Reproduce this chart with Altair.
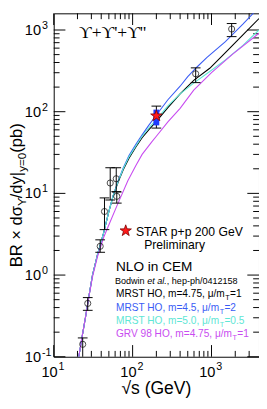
import altair as alt
import pandas as pd

# ---------------- data ----------------
sqrt_s_pts = [23.3, 27.0, 38.8, 44.0, 52.0, 62.0, 63.0, 630.0, 1800.0]
br_pts     = [0.142, 0.45, 2.25, 6.0, 13.4, 15.1, 9.2, 291.0, 1028.0]
br_lo      = [0.095, 0.37, 1.9, 3.6, 8.3, 10.5, 7.6, 227.0, 830.0]
br_hi      = [0.17, 0.53, 2.7, 8.8, 20.6, 20.6, 10.4, 344.0, 1200.0]

star_s = [200.0]
star_br = [89.0]
star_lo = [63.0]
star_hi = [117.0]
star_sys_lo = [68.0]
star_sys_hi = [106.0]

black_s = [20.8, 23, 25.5, 28, 31, 36, 43, 50, 57, 66, 76, 90, 110, 132, 160, 200, 280, 400, 600, 950, 1500, 2500, 4000]
black_v = [0.1, 0.18, 0.32, 0.56, 1.0, 1.8, 3.3, 6.0, 9.5, 14, 19.5, 27, 37, 48, 60, 76, 112, 165, 243, 340, 530, 870, 1380]
blue_s = [20.8, 23, 25.5, 28, 31, 36, 43, 50, 57, 66, 76, 90, 110, 132, 160, 200, 280, 400, 500, 650, 870, 1500, 2500, 4000]
blue_v = [0.1, 0.18, 0.32, 0.56, 1.0, 1.8, 3.3, 6.0, 9.6, 14.5, 20.5, 29, 40, 52, 68, 91, 140, 205, 268, 350, 460, 720, 1180, 1900]
cyan_s = [20.8, 23, 25.5, 28, 31, 36, 43, 50, 57, 66, 76, 90, 110, 132, 160, 200, 280, 400, 600, 950, 1500, 2500, 4000]
cyan_v = [0.1, 0.18, 0.32, 0.56, 1.0, 1.8, 3.3, 6.0, 9.5, 14.2, 20, 28, 38, 50, 63, 80, 118, 165, 225, 310, 430, 650, 1000]
mag_s = [20.8, 23, 25.5, 28, 31, 36, 43, 51, 65, 87, 110, 132, 176, 200, 280, 400, 595, 1000, 1840, 4000]
mag_v = [0.1, 0.18, 0.32, 0.55, 0.95, 1.7, 2.9, 4.3, 7.5, 14.3, 22, 30, 43, 50, 75, 110, 184, 300, 504, 914]

series_names = ["MRST HO, m=4.75, μ/mT=1", "MRST HO, m=4.5, μ/mT=2",
                "MRST HO, m=5.0, μ/mT=0.5", "GRV 98 HO, m=4.75, μ/mT=1"]
series_colors = ["#000000", "#3a5cf5", "#5ee6d5", "#c84cf0"]

x_major = [10, 100, 1000]
y_major = [0.1, 1, 10, 100, 1000]
x_minor = [m * 10 ** k for k in (1, 2, 3) for m in range(2, 10) if m * 10 ** k < 4000]
y_minor = [m * 10.0 ** k for k in (-1, 0, 1, 2, 3) for m in range(2, 10) if m * 10.0 ** k < 1600]

# ---------------- layout ----------------
W, H = 211, 353
FONT = "Liberation Sans, Arial, Helvetica, sans-serif"
xs = alt.Scale(type="log", domain=[10, 4000], nice=False)
ys = alt.Scale(type="log", domain=[0.1, 1600], nice=False)

AW = {'M': 833, 'R': 722, 'S': 667, 'T': 611, ' ': 278, 'H': 722, 'O': 778, ',': 278,
      'm': 833, '=': 584, '.': 278, 'μ': 576, '/': 278, 'G': 778, 'V': 667,
      'B': 667, '×': 584, 'd': 556, 'σ': 617, 'ϒ': 667, 'y': 500, '|': 260,
      '(': 333, ')': 333, 'p': 556, 'b': 556, 'o': 556, 'w': 722, 'i': 222, 'n': 556,
      'e': 556, 't': 278, 'a': 556, 'l': 222, 'h': 556, '-': 333}


def tw(s, size):
    return sum(AW.get(c, 556) for c in s) / 1000.0 * size


one = pd.DataFrame({"a": [0]})


def txt(text, x, y, size, color="black", align="left", angle=0, style="normal", family=FONT):
    return alt.Chart(one).mark_text(
        text=text, align=align, baseline="alphabetic", fontSize=size, color=color,
        angle=angle, fontStyle=style, font=family
    ).encode(x=alt.value(x), y=alt.value(y))


# curves
rows = []
for name, xs_, vs_ in zip(series_names, [black_s, blue_s, cyan_s, mag_s], [black_v, blue_v, cyan_v, mag_v]):
    for a, b in zip(xs_, vs_):
        rows.append({"s": a, "v": b, "series": name})
curves_df = pd.DataFrame(rows)
curves = alt.Chart(curves_df).mark_line(clip=True, strokeWidth=1.1).encode(
    x=alt.X("s:Q", scale=xs, axis=None),
    y=alt.Y("v:Q", scale=ys, axis=None),
    color=alt.Color("series:N", scale=alt.Scale(domain=series_names, range=series_colors), legend=None),
    order=alt.Order("s:Q"),
)

pts_df = pd.DataFrame({"s": sqrt_s_pts, "v": br_pts, "lo": br_lo, "hi": br_hi})
ebar = alt.Chart(pts_df).mark_rule(color="black", strokeWidth=1, clip=True).encode(
    x=alt.X("s:Q", scale=xs, axis=None), y=alt.Y("lo:Q", scale=ys, axis=None), y2="hi:Q")
cap_lo = alt.Chart(pts_df).mark_rule(color="black", strokeWidth=1, xOffset=-5, x2Offset=5, clip=True).encode(
    x=alt.X("s:Q", scale=xs, axis=None), x2="s:Q", y=alt.Y("lo:Q", scale=ys, axis=None))
cap_hi = alt.Chart(pts_df).mark_rule(color="black", strokeWidth=1, xOffset=-5, x2Offset=5, clip=True).encode(
    x=alt.X("s:Q", scale=xs, axis=None), x2="s:Q", y=alt.Y("hi:Q", scale=ys, axis=None))
circ = alt.Chart(pts_df).mark_point(shape="circle", filled=False, size=40, color="black", strokeWidth=1, clip=True).encode(
    x=alt.X("s:Q", scale=xs, axis=None), y=alt.Y("v:Q", scale=ys, axis=None))

star_df = pd.DataFrame({"s": star_s, "v": star_br, "lo": star_lo, "hi": star_hi,
                        "slo": star_sys_lo, "shi": star_sys_hi})
STAR = "M0,-1L0.235,-0.324L0.951,-0.309L0.38,0.124L0.588,0.809L0,0.4L-0.588,0.809L-0.38,0.124L-0.951,-0.309L-0.235,-0.324Z"
s_sys = alt.Chart(star_df).mark_rect(color="#1f3cff", xOffset=-3, x2Offset=3).encode(
    x=alt.X("s:Q", scale=xs, axis=None), x2="s:Q", y=alt.Y("slo:Q", scale=ys, axis=None), y2="shi:Q")
s_bar = alt.Chart(star_df).mark_rule(color="black").encode(
    x=alt.X("s:Q", scale=xs, axis=None), y=alt.Y("lo:Q", scale=ys, axis=None), y2="hi:Q")
s_caplo = alt.Chart(star_df).mark_rule(color="black", xOffset=-5, x2Offset=5).encode(
    x=alt.X("s:Q", scale=xs, axis=None), x2="s:Q", y=alt.Y("lo:Q", scale=ys, axis=None))
s_caphi = alt.Chart(star_df).mark_rule(color="black", xOffset=-5, x2Offset=5).encode(
    x=alt.X("s:Q", scale=xs, axis=None), x2="s:Q", y=alt.Y("hi:Q", scale=ys, axis=None))
s_pt = alt.Chart(star_df).mark_point(shape=STAR, filled=True, size=150, fill="#ff1a1a", stroke="#7a0000",
                                     strokeWidth=0.8, opacity=1).encode(
    x=alt.X("s:Q", scale=xs, axis=None), y=alt.Y("v:Q", scale=ys, axis=None))

# ticks (inward, all four sides)
def yticks(vals, length):
    d = pd.DataFrame({"v": vals})
    l = alt.Chart(d).mark_rule(color="black").encode(
        y=alt.Y("v:Q", scale=ys, axis=None), x=alt.value(0), x2=alt.value(length))
    r = alt.Chart(d).mark_rule(color="black").encode(
        y=alt.Y("v:Q", scale=ys, axis=None), x=alt.value(W), x2=alt.value(W - length))
    return [l, r]


def xticks(vals, length):
    d = pd.DataFrame({"v": vals})
    b = alt.Chart(d).mark_rule(color="black").encode(
        x=alt.X("v:Q", scale=xs, axis=None), y=alt.value(H), y2=alt.value(H - length))
    t = alt.Chart(d).mark_rule(color="black").encode(
        x=alt.X("v:Q", scale=xs, axis=None), y=alt.value(0), y2=alt.value(length))
    return [b, t]


ticks = yticks(y_major, 12) + yticks(y_minor, 6) + xticks(x_major, 12) + xticks(x_minor, 6)

# tick labels: 10 with superscript exponent
xl_df = pd.DataFrame({"v": x_major, "e": [str(len(str(v)) - 1) for v in x_major]})
xlab = alt.Chart(xl_df).mark_text(align="right", baseline="alphabetic", fontSize=15, font=FONT, dx=4,
                                  text="10").encode(
    x=alt.X("v:Q", scale=xs, axis=None), y=alt.value(H + 21))
xsup = alt.Chart(xl_df).mark_text(align="left", baseline="alphabetic", fontSize=11, font=FONT, dx=5).encode(
    x=alt.X("v:Q", scale=xs, axis=None), y=alt.value(H + 14), text="e:N")
y_exps = ["-1", "0", "1", "2", "3"]
yl_df = pd.DataFrame({"v": y_major, "e": y_exps})
ylab = alt.Chart(yl_df).mark_text(align="right", baseline="alphabetic", fontSize=15, font=FONT, dy=5,
                                  text="10").encode(
    y=alt.Y("v:Q", scale=ys, axis=None), x=alt.value(-13))
ysup = alt.Chart(yl_df).mark_text(align="left", baseline="alphabetic", fontSize=11, font=FONT, dy=-1).encode(
    y=alt.Y("v:Q", scale=ys, axis=None), x=alt.value(-12), text="e:N")

# axis titles
xtitle = txt("√s (GeV)", W / 2, H + 38, 18, align="center")
F, FS = 17, 12
yt = []
y0 = 261
xb, xsb = -33, -29
pieces = [("BR × dσ", F, xb), ("ϒ", FS, xsb), ("/dy|", F, xb), ("y=0", FS, xsb), ("  (pb)", F, xb)]
for t, sz, xx in pieces:
    yt.append(txt(t, xx, y0, sz, angle=270))
    y0 -= tw(t, sz)

# annotations
ann = [
    txt("ϒ+ϒ'+ϒ''", 26, 25, 18, family="Liberation Serif, DejaVu Serif, serif"),
    txt("STAR p+p 200 GeV", 84.5, 228.5, 12.5),
    txt("Preliminary", 93, 242, 12.5),
    txt("NLO in CEM", 64, 265, 14),
]
bx = 63
BF = 9.3
for t, st in [("Bodwin ", "normal"), ("et al.", "italic"), (", hep-ph/0412158", "normal")]:
    ann.append(txt(t, bx, 278, BF, style=st))
    bx += tw(t, BF)

leg_parts = [("MRST HO, m=4.75, μ/m", "=1"), ("MRST HO, m=4.5, μ/m", "=2"),
             ("MRST HO, m=5.0, μ/m", "=0.5"), ("GRV 98 HO, m=4.75, μ/m", "=1")]
LF = 10.4
for i, ((a, b), col) in enumerate(zip(leg_parts, series_colors)):
    yy = 292 + i * 13.7
    ann.append(txt(a, 64, yy, LF, color=col))
    xx = 64 + tw(a, LF)
    ann.append(txt("T", xx + 0.3, yy + 3, 7.5, color=col))
    ann.append(txt(b, xx + 0.6 + tw("T", 7.5), yy, LF, color=col))

star_leg = alt.Chart(one).mark_point(shape=STAR, filled=True, size=150, fill="#ff1a1a", stroke="#7a0000",
                                     strokeWidth=0.8, opacity=1).encode(x=alt.value(74), y=alt.value(223.5))

chart = alt.layer(
    *ticks, curves, ebar, cap_lo, cap_hi, circ, s_bar, s_caplo, s_caphi, s_sys, s_pt,
    xlab, xsup, ylab, ysup, xtitle, *yt, *ann, star_leg
).properties(
    width=W, height=H,
    autosize=alt.AutoSizeParams(type="none"),
    padding={"left": 47, "top": 0, "right": 0, "bottom": 40},
).configure_view(stroke="black", strokeWidth=1)

chart.save("out.html", embed_options={"renderer": "svg", "actions": False})
